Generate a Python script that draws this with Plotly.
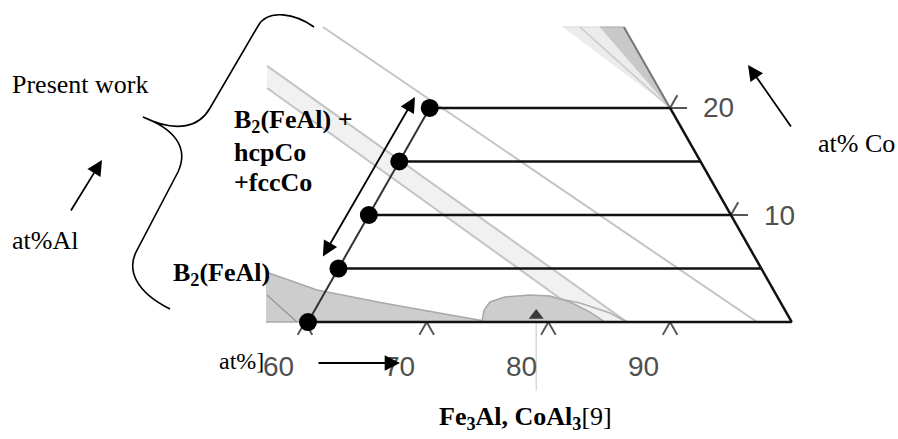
import plotly.graph_objects as go

# ---------------- data (ternary coordinates: X = bottom-axis at%, Co = at% Co) ----------------
tie_co = [0, 5, 10, 15, 20]          # experimental tie-line levels (at% Co)
tie_x_left = 60.25                   # left boundary (bottom-axis at%) of the measured region
base_ticks = [60, 70, 80, 90]
base_tick_labels = ["60", "70", "80", "90"]
co_ticks = [10, 20]
co_tick_labels = ["10", "20"]

# background (literature) phase boundaries
line1_x = [47.69, 97.14]
line1_co = [27.57, 0.0]
band_upper_x = [44.92, 86.46]
band_upper_co = [23.93, 0.0]
band_lower_x = [45.95, 83.66]
band_lower_co = [21.87, 0.0]
b2_x = [54.46, 59.49, 65.52, 71.59, 74.29, 75.20, 56.80]
b2_co = [4.67, 2.99, 1.78, 0.65, 0.19, 0.0, 0.0]
b2_inner_x = [55.62, 59.34]
b2_inner_co = [2.52, 0.0]
lens_x = [74.54, 74.15, 74.27, 75.26, 77.23, 78.92, 80.84, 82.95, 84.65]
lens_co = [0.0, 1.12, 1.87, 2.34, 2.52, 2.43, 1.87, 0.93, 0.0]
lens2_x = [78.67, 81.71, 84.64, 86.46]
lens2_co = [2.43, 1.78, 0.84, 0.0]
wedge_light_x = [67.41, 70.45, 80.0]
wedge_light_co = [27.57, 27.57, 20.0]
wedge_dark_x = [70.45, 72.42, 80.0]
wedge_dark_co = [27.57, 27.57, 20.0]
wedge_line_x = [68.81, 80.0]
wedge_line_co = [27.57, 20.0]
marker_x = 79.0


def cart(xs, cos):
    """ternary (X, Co) -> cartesian (x, y) used by the plot axes"""
    return [x + c / 2 for x, c in zip(xs, cos)], list(cos)


fig = go.Figure()


def add_line(xs, cos, color, width, fill=None, fillcolor=None, dash=None):
    cx, cy = cart(xs, cos)
    fig.add_trace(go.Scatter(
        x=cx, y=cy, mode="lines",
        line=dict(color=color, width=width, dash=dash),
        fill=fill, fillcolor=fillcolor, hoverinfo="skip", showlegend=False))


# light band
add_line(band_upper_x + band_lower_x[::-1], band_upper_co + band_lower_co[::-1],
         "rgba(0,0,0,0)", 0, fill="toself", fillcolor="#f1f1f1")
add_line(band_upper_x, band_upper_co, "#c4c4c4", 2)
add_line(band_lower_x, band_lower_co, "#c4c4c4", 2)
add_line(line1_x, line1_co, "#c4c4c4", 2)

# top-right wedge
add_line(wedge_light_x, wedge_light_co, "#d8d8d8", 1, fill="toself", fillcolor="#ececec")
add_line(wedge_dark_x, wedge_dark_co, "#a8a8a8", 1, fill="toself", fillcolor="#c8c8c8")
add_line(wedge_line_x, wedge_line_co, "#c8c8c8", 1.5)
add_line([wedge_dark_x[1], 80.0], [wedge_dark_co[1], 20.0], "#777777", 2)

# B2 region and lens region
add_line(b2_x, b2_co, "#a8a8a8", 1.5, fill="toself", fillcolor="#cdcdcd")
add_line(b2_inner_x, b2_inner_co, "#9a9a9a", 1.5)
add_line(lens_x, lens_co, "#a8a8a8", 1.5, fill="toself", fillcolor="#cdcdcd")
add_line(lens2_x, lens2_co, "#b0b0b0", 1.5)

# vertical reference line and marker
fig.add_trace(go.Scatter(x=[marker_x, marker_x], y=[0, -6.4], mode="lines",
                         line=dict(color="#cfcfcf", width=1.2), hoverinfo="skip", showlegend=False))
fig.add_trace(go.Scatter(x=[marker_x], y=[0.6], mode="markers",
                         marker=dict(symbol="triangle-up", size=13, color="#3a3a3a"),
                         hoverinfo="skip", showlegend=False))

# ticks on the base
for t in base_ticks:
    add_line([t, t], [0, -1.2], "#555555", 2)
    add_line([t, t + 1.2], [0, -1.2], "#555555", 2)
# ticks on the right edge
for c in co_ticks:
    x0 = 100 - c
    add_line([x0, x0 + 1.4], [c, c], "#555555", 2)
    add_line([x0, x0], [c, c + 1.2], "#555555", 2)

# tie lines (black) and the triangle edges
for c in tie_co:
    add_line([tie_x_left, 100 - c], [c, c], "#111111", 2.5)
add_line([100, 100 - tie_co[-1]], [0, tie_co[-1]], "#111111", 2.5)

# left boundary with dots
add_line([tie_x_left] * len(tie_co), tie_co, "#333333", 2)
dx, dy = cart([tie_x_left] * len(tie_co), tie_co)
fig.add_trace(go.Scatter(x=dx, y=dy, mode="markers",
                         marker=dict(size=18, color="black"), hoverinfo="skip", showlegend=False))

# tick labels
lab_font = dict(family="Liberation Sans, Arial", size=28, color="#505050")
for t, s in zip(base_ticks, base_tick_labels):
    lx, ly = cart([t - 0.1], [-4.2])
    fig.add_annotation(x=lx[0], y=ly[0], text=s, showarrow=False, font=lab_font)
for c, s in zip(co_ticks, co_tick_labels):
    lx, ly = cart([100 - c + 4.0], [c])
    fig.add_annotation(x=lx[0], y=ly[0], text=s, showarrow=False, font=lab_font)

# ---------------- layout-level text, arrows and brace (pixel positions -> paper) ----------------
W, H = 898, 439


def P(px, py):
    return px / W, 1 - py / H


serif = "Liberation Serif, Times New Roman"


def text(px, py, s, size=26, bold=False, xanchor="left"):
    x, y = P(px, py)
    fig.add_annotation(x=x, y=y, xref="paper", yref="paper", text=(f"<b>{s}</b>" if bold else s),
                       showarrow=False, xanchor=xanchor, yanchor="middle",
                       font=dict(family=serif, size=size, color="black"))


text(10, 84, "Present work")
text(10, 240, "at%Al")
text(816, 143, "at% Co")
text(266, 361, "at%]", size=24, xanchor="right")
text(232, 121, "B<sub>2</sub>(FeAl) +", 26, True)
text(232, 152, "hcpCo", 26, True)
text(232, 182, "+fccCo", 26, True)
text(171, 274, "B<sub>2</sub>(FeAl)", 26, True)
x, y = P(525, 436)
fig.add_annotation(x=x, y=y, xref="paper", yref="paper",
                   text="<b>Fe<sub>3</sub>Al, CoAl<sub>3</sub></b>[9]", showarrow=False,
                   xanchor="center", yanchor="bottom",
                   font=dict(family=serif, size=26, color="black"))


def arrow(hx, hy, tx, ty, both=False):
    x, y = P(hx, hy)
    fig.add_annotation(x=x, y=y, xref="paper", yref="paper", ax=tx - hx, ay=ty - hy,
                       text="", showarrow=True, arrowhead=2, startarrowhead=2,
                       arrowside="end+start" if both else "end",
                       arrowsize=1.7, startarrowsize=1.7, arrowwidth=1.8, arrowcolor="black")


arrow(102, 160, 70, 212)
arrow(748, 65, 792, 128)
arrow(415, 97, 322, 258, both=True)
arrow(400, 363, 317, 363)


def pt(a, b):
    x, y = P(a, b)
    return f"{x:.4f},{y:.4f}"


# curly brace drawn as smooth bezier segments
path = (
    f"M {pt(314, 27)} C {pt(296, 14)} {pt(268, 8)} {pt(258, 26)} "
    f"L {pt(210, 108)} C {pt(200, 126)} {pt(178, 134)} {pt(143, 117)} "
    f"C {pt(172, 128)} {pt(190, 146)} {pt(178, 172)} "
    f"L {pt(137, 250)} C {pt(126, 270)} {pt(136, 292)} {pt(170, 309)}"
)
fig.add_shape(type="path", path=path, xref="paper", yref="paper",
              line=dict(color="black", width=1.6))

fig.update_layout(
    width=W, height=H, margin=dict(l=0, r=0, t=0, b=0),
    paper_bgcolor="white", plot_bgcolor="white",
    xaxis=dict(range=[34.94, 108.73], visible=False, fixedrange=True),
    yaxis=dict(range=[-10.93, 30.09], visible=False, fixedrange=True),
    showlegend=False,
)
fig.write_html("out.html", config={"displayModeBar": False},
               post_script="document.body.style.margin='0px';")
